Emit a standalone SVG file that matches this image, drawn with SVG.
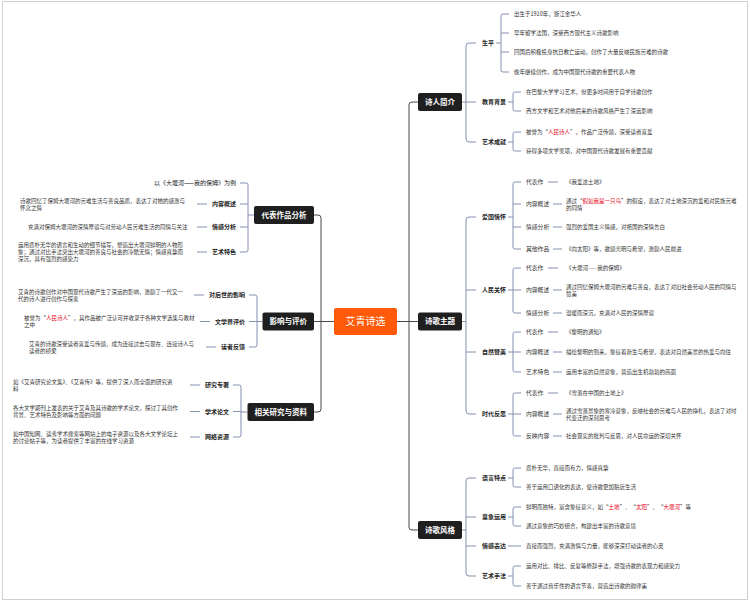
<svg xmlns="http://www.w3.org/2000/svg" width="750" height="602" viewBox="0 0 750 602">
<style>
text{font-family:"Noto Sans CJK SC","Noto Sans",sans-serif}
.v{font-size:5.5px;fill:#333}
.l2{font-size:6px;font-weight:bold;fill:#222}
.l3{font-size:5.8px;fill:#333}
.bt{font-size:7.5px;font-weight:bold;fill:#fff;text-anchor:middle}
.e{text-anchor:end}
.r{fill:#e60012}
.m{stroke:#4a4a4a;fill:none;stroke-width:1}
.s{stroke:#8690b0;fill:none;stroke-width:1}
.box{fill:#1f1f1f}
</style>
<rect x="2.5" y="1.5" width="745" height="598" fill="#fff" stroke="#d0d0d0" stroke-width="1"/>
<g id="connectors">
<path class="m" d="M418,102 H412 Q409,102 409,105 V527 Q409,530 412,530 H418 M397,321.5 H418"/>
<path class="m" d="M314,215 H318 Q321,215 321,218 V409 Q321,412 318,412 H314 M314,321.5 H334"/>
<path class="s" d="M462,102 H476 M476,43 H469 Q466,43 466,46 V139 Q466,142 469,142 H476"/>
<path class="s" d="M462,321.5 H466 M476,217 H469 Q466,217 466,220 V411 Q466,414 469,414 H476 M466,290 H476 M466,352 H476"/>
<path class="s" d="M462,530 H466 M476,478 H469 Q466,478 466,481 V573 Q466,576 469,576 H476 M466,517 H476 M466,546 H476"/>
<path class="s" d="M496,43 H501 M509,14 H503 Q501,14 501,16 V70 Q501,72 503,72 H509 M501,33 H509 M501,52 H509"/>
<path class="s" d="M508,102 H513 M521,92 H515 Q513,92 513,94 V109 Q513,111 515,111 H521"/>
<path class="s" d="M508,142 H513 M521,132 H515 Q513,132 513,134 V149 Q513,151 515,151 H521"/>
<path class="s" d="M508,217 H513 M521,182 H515 Q513,182 513,184 V247 Q513,249 515,249 H521 M513,204 H521 M513,227 H521"/>
<path class="s" d="M508,290 H513 M521,268 H515 Q513,268 513,270 V311 Q513,313 515,313 H521 M513,290 H521"/>
<path class="s" d="M508,352 H513 M521,332 H515 Q513,332 513,334 V370 Q513,372 515,372 H521 M513,352 H521"/>
<path class="s" d="M508,414 H513 M521,393 H515 Q513,393 513,395 V434 Q513,436 515,436 H521 M513,414 H521"/>
<path class="s" d="M508,478 H513 M521,468 H515 Q513,468 513,470 V485 Q513,487 515,487 H521"/>
<path class="s" d="M508,517 H513 M521,507 H515 Q513,507 513,509 V524 Q513,526 515,526 H521"/>
<path class="s" d="M508,546 H521"/>
<path class="s" d="M508,576 H513 M521,566 H515 Q513,566 513,568 V584 Q513,586 515,586 H521"/>
<path class="s" d="M548,182 H558 M553,204 H562 M553,227 H562 M553,249 H562 M548,268 H558 M553,290 H562 M553,313 H562 M548,332 H558 M553,352 H562 M553,372 H562 M548,393 H558 M553,414 H562 M553,436 H562"/>
<path class="s" d="M254,215 H248 M240,183 H246 Q248,183 248,185 V250 Q248,252 246,252 H240 M248,204 H240 M248,227 H240 M197,204 H207 M197,227 H207 M197,252 H207"/>
<path class="s" d="M262.5,321.5 H257 M249,295 H255 Q257,295 257,297 V345 Q257,347 255,347 H249 M257,321.5 H249 M194,295 H204 M200,321.5 H210 M206,347 H216"/>
<path class="s" d="M247.5,412 H241 M233,385 H239 Q241,385 241,387 V435 Q241,437 239,437 H233 M241,411.5 H233 M190,385 H200 M190,411.5 H200 M190,437 H200"/>
</g>
<g id="root"><rect x="334" y="308" width="63" height="27" rx="2" fill="#ff5a0a"/><text x="365.5" y="325.3" text-anchor="middle" style="font-size:10px;fill:#fff">艾青诗选</text></g>
<g id="n-jianjie"><rect class="box" x="418" y="93" width="44" height="18" rx="2"/><text class="bt" x="440" y="104.8">诗人简介</text></g>
<g id="n-zhuti"><rect class="box" x="418" y="312.5" width="44" height="18" rx="2"/><text class="bt" x="440" y="324.3">诗歌主题</text></g>
<g id="n-fengge"><rect class="box" x="418" y="521" width="44" height="18" rx="2"/><text class="bt" x="440" y="532.8">诗歌风格</text></g>
<g id="n-daibiao"><rect class="box" x="254" y="206" width="60" height="18" rx="2"/><text class="bt" x="284" y="217.8">代表作品分析</text></g>
<g id="n-yingxiang"><rect class="box" x="262.5" y="312.5" width="51.5" height="18" rx="2"/><text class="bt" x="288.2" y="324.3">影响与评价</text></g>
<g id="n-yanjiu"><rect class="box" x="247.5" y="403" width="66.5" height="18" rx="2"/><text class="bt" x="280.7" y="414.8">相关研究与资料</text></g>
<g id="n-shengping"><text class="l2" x="482" y="45.3">生平</text>
<text class="v" x="514" y="16">出生于1910年，浙江金华人</text>
<text class="v" x="514" y="35">早年留学法国，深受西方现代主义诗歌影响</text>
<text class="v" x="514" y="54">回国后积极投身抗日救亡运动，创作了大量反映民族苦难的诗歌</text>
<text class="v" x="514" y="74">晚年继续创作，成为中国现代诗歌的重要代表人物</text></g>
<g id="n-jiaoyu"><text class="l2" x="482" y="104.3">教育背景</text>
<text class="v" x="526" y="94">在巴黎大学学习艺术，但更多时间用于自学诗歌创作</text>
<text class="v" x="526" y="113">西方文学和艺术对他后来的诗歌风格产生了深远影响</text></g>
<g id="n-chengjiu"><text class="l2" x="482" y="144.3">艺术成就</text>
<text class="v" x="526" y="134">被誉为“<tspan class="r">人民诗人</tspan>”，作品广泛传颂，深受读者喜爱</text>
<text class="v" x="526" y="153">获得多项文学奖项，对中国现代诗歌发展有重要贡献</text></g>
<g id="n-aiguo"><text class="l2" x="482" y="219.3">爱国情怀</text>
<text class="l3" x="526" y="184.2">代表作</text><text class="v" x="566" y="184">《我爱这土地》</text>
<text class="l3" x="526" y="206.2">内容概述</text><text class="v" x="566" y="202.5">通过“<tspan class="r">假如我是一只鸟</tspan>”的假设，表达了对土地深沉的爱和对民族苦难</text><text class="v" x="566" y="209.5">的同情</text>
<text class="l3" x="526" y="229.2">情感分析</text><text class="v" x="566" y="229">强烈的爱国主义情感，对祖国的深情告白</text>
<text class="l3" x="526" y="251.2">其他作品</text><text class="v" x="566" y="251">《向太阳》等，歌颂光明与希望，激励人民前进</text></g>
<g id="n-renmin"><text class="l2" x="482" y="292.3">人民关怀</text>
<text class="l3" x="526" y="270.2">代表作</text><text class="v" x="566" y="270">《大堰河——我的保姆》</text>
<text class="l3" x="526" y="292.2">内容概述</text><text class="v" x="566" y="288.5">通过回忆保姆大堰河的苦难与善良，表达了对旧社会劳动人民的同情与</text><text class="v" x="566" y="295.5">赞美</text>
<text class="l3" x="526" y="315.2">情感分析</text><text class="v" x="566" y="315">温暖而深沉，充满对人民的深情厚谊</text></g>
<g id="n-ziran"><text class="l2" x="482" y="354.3">自然赞美</text>
<text class="l3" x="526" y="334.2">代表作</text><text class="v" x="566" y="334">《黎明的通知》</text>
<text class="l3" x="526" y="354.2">内容概述</text><text class="v" x="566" y="354">描绘黎明的到来，象征着新生与希望，表达对自然美景的热爱与向往</text>
<text class="l3" x="526" y="374.2">艺术特色</text><text class="v" x="566" y="374">运用丰富的自然意象，营造出生机勃勃的画面</text></g>
<g id="n-shidai"><text class="l2" x="482" y="416.3">时代反思</text>
<text class="l3" x="526" y="395.2">代表作</text><text class="v" x="566" y="395">《雪落在中国的土地上》</text>
<text class="l3" x="526" y="416.2">内容概述</text><text class="v" x="566" y="412.5">通过雪落景象的寒冷意象，反映社会的苦难与人民的挣扎，表达了对时</text><text class="v" x="566" y="419.5">代变迁的深刻思考</text>
<text class="l3" x="526" y="438.2">反映内容</text><text class="v" x="566" y="438">社会现实的批判与反思，对人民命运的深切关怀</text></g>
<g id="n-yuyan"><text class="l2" x="482" y="480.3">语言特点</text>
<text class="v" x="526" y="470">质朴无华，直接而有力，情感真挚</text>
<text class="v" x="526" y="489">善于运用口语化的表达，使诗歌更加贴近生活</text></g>
<g id="n-yixiang"><text class="l2" x="482" y="519.3">意象运用</text>
<text class="v" x="526" y="509">鲜明而独特，富含象征意义，如“<tspan class="r">土地</tspan>”、“<tspan class="r">太阳</tspan>”、“<tspan class="r">大堰河</tspan>”等</text>
<text class="v" x="526" y="528">通过意象的巧妙组合，构建出丰富的诗歌意境</text></g>
<g id="n-qinggan"><text class="l2" x="482" y="548.3">情感表达</text>
<text class="v" x="526" y="548">直接而强烈，充满激情与力量，能够深深打动读者的心灵</text></g>
<g id="n-shoufa"><text class="l2" x="482" y="578.3">艺术手法</text>
<text class="v" x="526" y="568">运用对比、排比、反复等修辞手法，增强诗歌的表现力和感染力</text>
<text class="v" x="526" y="588">善于通过音乐性的语言节奏，营造出诗歌的韵律美</text></g>
<g id="n-daibiao-items">
<text class="e" x="236" y="185.2" style="font-size:6px;fill:#222">以《大堰河——我的保姆》为例</text>
<text class="l2 e" x="236" y="206.3">内容概述</text><text class="v" x="20" y="202.5">诗歌回忆了保姆大堰河的苦难生活与善良品质，表达了对她的感激与</text><text class="v" x="20" y="209.5">怀念之情</text>
<text class="l2 e" x="236" y="229.3">情感分析</text><text class="v" x="28" y="229">充满对保姆大堰河的深情厚谊与对劳动人民苦难生活的同情与关注</text>
<text class="l2 e" x="236" y="254.3">艺术特色</text><text class="v" x="18" y="247.3">运用质朴无华的语言和生动的细节描写，塑造出大堰河鲜明的人物形</text><text class="v" x="18" y="254.1">象；通过对比手法突出大堰河的善良与社会的冷酷无情；情感真挚而</text><text class="v" x="18" y="260.9">深沉，具有强烈的感染力</text></g>
<g id="n-yingxiang-items">
<text class="l2 e" x="245" y="297.3">对后世的影响</text><text class="v" x="18" y="293.5">艾青的诗歌创作对中国现代诗歌产生了深远的影响，激励了一代又一</text><text class="v" x="18" y="300.5">代的诗人进行创作与探索</text>
<text class="l2 e" x="245" y="323.8">文学界评价</text><text class="v" x="24" y="320">被誉为“<tspan class="r">人民诗人</tspan>”，其作品被广泛认可并收录于各种文学选集与教材</text><text class="v" x="24" y="327">之中</text>
<text class="l2 e" x="245" y="349.3">读者反馈</text><text class="v" x="29" y="345.5">艾青的诗歌深受读者喜爱与传颂，成为连接过去与现在、连接诗人与</text><text class="v" x="29" y="352.5">读者的桥梁</text></g>
<g id="n-yanjiu-items">
<text class="l2 e" x="229" y="387.3">研究专著</text><text class="v" x="13" y="383.5">如《艾青研究论文集》、《艾青传》等，提供了深入而全面的研究资</text><text class="v" x="13" y="390.5">料</text>
<text class="l2 e" x="229" y="413.8">学术论文</text><text class="v" x="13" y="410">各大文学期刊上发表的关于艾青及其诗歌的学术论文，探讨了其创作</text><text class="v" x="13" y="417">背景、艺术特色及影响等方面的问题</text>
<text class="l2 e" x="229" y="439.3">网络资源</text><text class="v" x="13" y="435.5">如中国知网、读秀学术搜索等网站上的电子资源以及各大文学论坛上</text><text class="v" x="13" y="442.5">的讨论帖子等，为读者提供了丰富的在线学习资源</text></g>
</svg>
